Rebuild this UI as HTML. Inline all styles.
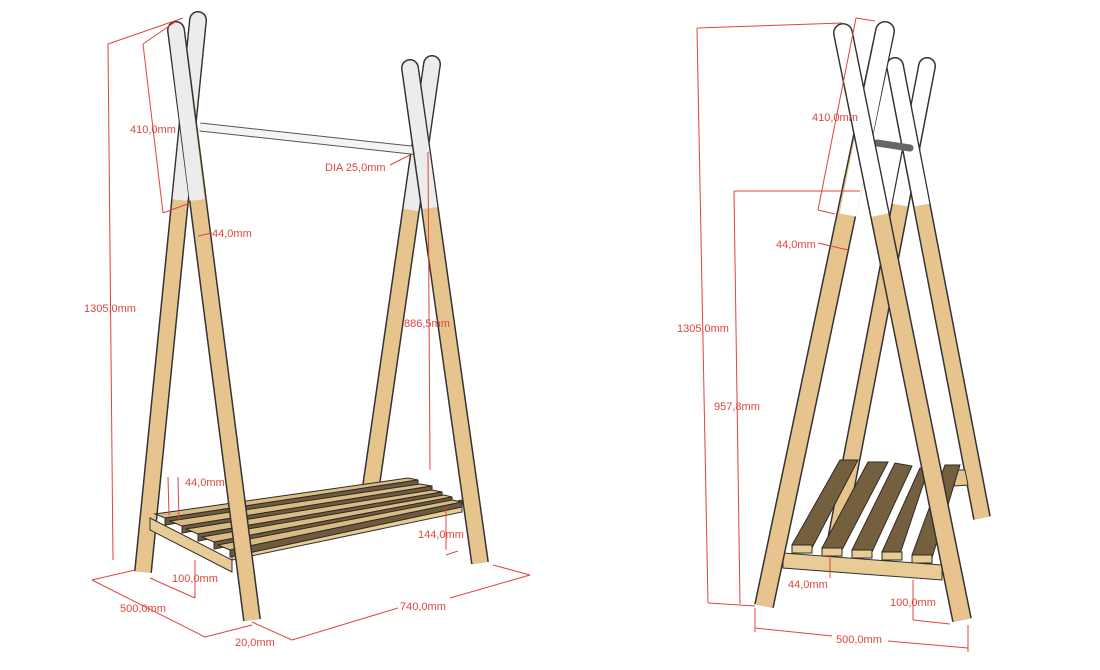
<!DOCTYPE html>
<html><head><meta charset="utf-8"><style>
html,body{margin:0;padding:0;background:#fff;width:1100px;height:670px;overflow:hidden}
text{font-family:"Liberation Sans",sans-serif;font-size:11px;fill:#e0453f}
</style></head><body>
<svg width="1100" height="670" viewBox="0 0 1100 670" xmlns="http://www.w3.org/2000/svg">
<!-- ============ LEFT FIGURE ============ -->
<!-- right frame back leg -->
<line x1="432" y1="64" x2="365" y2="528" stroke="#333" stroke-width="18"/>
<circle cx="432" cy="64" r="9" fill="#333"/>
<line x1="432" y1="64" x2="365" y2="528" stroke="#e7c48e" stroke-width="15"/>
<line x1="432" y1="64" x2="411" y2="210" stroke="#ececec" stroke-width="15"/>
<circle cx="432" cy="64" r="7.5" fill="#ececec"/>
<!-- left frame back leg -->
<line x1="198" y1="20" x2="143" y2="572" stroke="#333" stroke-width="18"/>
<circle cx="198" cy="20" r="9" fill="#333"/>
<line x1="198" y1="20" x2="143" y2="572" stroke="#e7c48e" stroke-width="15"/>
<line x1="198" y1="20" x2="180" y2="200" stroke="#ececec" stroke-width="15"/>
<circle cx="198" cy="20" r="7.5" fill="#ececec"/>
<!-- rod -->
<line x1="200" y1="127" x2="420" y2="151" stroke="#555" stroke-width="9"/>
<line x1="200" y1="127" x2="420" y2="151" stroke="#f4f4f4" stroke-width="7"/>
<!-- shelf -->
<polygon points="150,518 232,560 232,572 150,530" fill="#e9cb96" stroke="#333" stroke-width="1"/>
<polygon points="232,547 462,500 462,512 232,560" fill="#e9cb96" stroke="#333" stroke-width="1"/>
<g stroke="#2f2a22" stroke-width="1">
<polygon points="155,514 408,478 418,480 165,518" fill="#d9bb86"/>
<polygon points="165,518 418,480 418,485 165,525" fill="#6e5a3e"/>
<polygon points="170,521 420,484 432,486 182,526" fill="#d9bb86"/>
<polygon points="182,526 432,486 432,491 182,533" fill="#6e5a3e"/>
<polygon points="186,529 432,490 442,492 198,534" fill="#d9bb86"/>
<polygon points="198,534 442,492 442,497 198,541" fill="#6e5a3e"/>
<polygon points="202,537 444,495 452,497 214,542" fill="#d9bb86"/>
<polygon points="214,542 452,497 452,502 214,549" fill="#6e5a3e"/>
<polygon points="218,545 452,500 462,502 230,550" fill="#d9bb86"/>
<polygon points="230,550 462,502 462,507 230,557" fill="#6e5a3e"/>
</g>
<!-- front legs -->
<line x1="176" y1="30" x2="252" y2="620" stroke="#333" stroke-width="18"/>
<circle cx="176" cy="30" r="9" fill="#333"/>
<line x1="176" y1="30" x2="252" y2="620" stroke="#e7c48e" stroke-width="15"/>
<line x1="176" y1="30" x2="197" y2="200" stroke="#ececec" stroke-width="15"/>
<circle cx="176" cy="30" r="7.5" fill="#ececec"/>
<line x1="410" y1="68" x2="480" y2="563" stroke="#333" stroke-width="18"/>
<circle cx="410" cy="68" r="9" fill="#333"/>
<line x1="410" y1="68" x2="480" y2="563" stroke="#e7c48e" stroke-width="15"/>
<line x1="410" y1="68" x2="430" y2="208" stroke="#ececec" stroke-width="15"/>
<circle cx="410" cy="68" r="7.5" fill="#ececec"/>
<!-- left dims -->
<g stroke="#e0453f" stroke-width="1" fill="none">
<line x1="108" y1="44" x2="183" y2="18"/><line x1="108" y1="44" x2="113" y2="560"/>
<line x1="143" y1="44" x2="175" y2="22"/><line x1="143" y1="44" x2="163" y2="213"/><line x1="163" y1="213" x2="190" y2="203"/>
<line x1="428" y1="152" x2="430" y2="470"/>
<line x1="198" y1="236" x2="212" y2="233"/>
<line x1="168" y1="477" x2="169" y2="515"/><line x1="178" y1="477" x2="179" y2="520"/>
<line x1="446" y1="508" x2="446" y2="550"/><line x1="446" y1="555" x2="458" y2="551"/>
<line x1="195" y1="560" x2="195" y2="598"/><line x1="195" y1="598" x2="150" y2="578"/>
<line x1="92" y1="580" x2="205" y2="637"/><line x1="92" y1="580" x2="135" y2="570"/>
<line x1="205" y1="637" x2="252" y2="625"/><line x1="252" y1="622" x2="292" y2="640"/>
<line x1="292" y1="640" x2="398" y2="608"/><line x1="450" y1="598" x2="530" y2="575"/><line x1="493" y1="565" x2="530" y2="575"/>
<line x1="390" y1="165" x2="410" y2="155"/>
</g>
<text x="130" y="133">410,0mm</text>
<text x="325" y="171">DIA 25,0mm</text>
<text x="212" y="237">44,0mm</text>
<text x="84" y="312">1305,0mm</text>
<text x="404" y="327">886,5mm</text>
<text x="185" y="486">44,0mm</text>
<text x="418" y="538">144,0mm</text>
<text x="172" y="582">100,0mm</text>
<text x="120" y="612">500,0mm</text>
<text x="400" y="610">740,0mm</text>
<text x="235" y="646">20,0mm</text>

<!-- ============ RIGHT FIGURE ============ -->
<line x1="927" y1="66" x2="835" y2="545" stroke="#333" stroke-width="18"/>
<circle cx="927" cy="66" r="9" fill="#333"/>
<line x1="927" y1="66" x2="835" y2="545" stroke="#e7c48e" stroke-width="15"/>
<line x1="927" y1="66" x2="900" y2="205" stroke="#fff" stroke-width="15"/>
<circle cx="927" cy="66" r="7.5" fill="#fff"/>
<line x1="895" y1="66" x2="982" y2="518" stroke="#333" stroke-width="18"/>
<circle cx="895" cy="66" r="9" fill="#333"/>
<line x1="895" y1="66" x2="982" y2="518" stroke="#e7c48e" stroke-width="15"/>
<line x1="895" y1="66" x2="922" y2="205" stroke="#fff" stroke-width="15"/>
<circle cx="895" cy="66" r="7.5" fill="#fff"/>
<line x1="877" y1="143" x2="910" y2="148" stroke="#666" stroke-width="7" stroke-linecap="round"/>
<polygon points="950,470 965,470 968,485 955,486" fill="#e7c48e" stroke="#333"/>
<g stroke="#2f2a22" stroke-width="1">
<polygon points="792,545 840,460 858,460 812,548" fill="#74603f"/>
<polygon points="822,548 868,462 888,462 842,550" fill="#74603f"/>
<polygon points="852,550 895,463 912,466 872,552" fill="#74603f"/>
<polygon points="882,552 920,468 928,470 900,554" fill="#74603f"/>
<polygon points="912,555 945,465 960,465 932,558" fill="#74603f"/>
<rect x="792" y="545" width="20" height="8" fill="#e9cb96"/>
<rect x="822" y="548" width="20" height="8" fill="#e9cb96"/>
<rect x="852" y="550" width="20" height="8" fill="#e9cb96"/>
<rect x="882" y="552" width="20" height="8" fill="#e9cb96"/>
<rect x="912" y="555" width="20" height="8" fill="#e9cb96"/>
</g>
<polygon points="783,553 942,565 942,580 783,568" fill="#e9cb96" stroke="#333"/>
<line x1="885" y1="31" x2="764" y2="606" stroke="#333" stroke-width="20"/>
<circle cx="885" cy="31" r="10" fill="#333"/>
<line x1="885" y1="31" x2="764" y2="606" stroke="#e7c48e" stroke-width="17"/>
<line x1="885" y1="31" x2="848" y2="215" stroke="#fff" stroke-width="17"/>
<circle cx="885" cy="31" r="8.5" fill="#fff"/>
<line x1="843" y1="33" x2="962" y2="620" stroke="#333" stroke-width="20"/>
<circle cx="843" cy="33" r="10" fill="#333"/>
<line x1="843" y1="33" x2="962" y2="620" stroke="#e7c48e" stroke-width="17"/>
<line x1="843" y1="33" x2="880" y2="215" stroke="#fff" stroke-width="17"/>
<circle cx="843" cy="33" r="8.5" fill="#fff"/>
<g stroke="#e0453f" stroke-width="1" fill="none">
<line x1="697" y1="28" x2="842" y2="23"/><line x1="697" y1="28" x2="708" y2="603"/><line x1="708" y1="603" x2="755" y2="606"/>
<line x1="734" y1="191" x2="860" y2="191"/><line x1="734" y1="191" x2="740" y2="604"/>
<line x1="856" y1="18" x2="875" y2="21"/><line x1="856" y1="18" x2="818" y2="210"/><line x1="818" y1="210" x2="835" y2="214"/>
<line x1="818" y1="243" x2="848" y2="250"/>
<line x1="830" y1="555" x2="830" y2="578"/>
<line x1="913" y1="580" x2="913" y2="620"/><line x1="913" y1="620" x2="950" y2="624"/>
<line x1="755" y1="608" x2="755" y2="632"/><line x1="968" y1="625" x2="968" y2="652"/>
<line x1="755" y1="628" x2="832" y2="636"/><line x1="888" y1="641" x2="968" y2="648"/>
</g>
<text x="812" y="121">410,0mm</text>
<text x="776" y="248">44,0mm</text>
<text x="677" y="332">1305,0mm</text>
<text x="714" y="410">957,8mm</text>
<text x="788" y="588">44,0mm</text>
<text x="890" y="606">100,0mm</text>
<text x="836" y="643">500,0mm</text>
</svg>
</body></html>
